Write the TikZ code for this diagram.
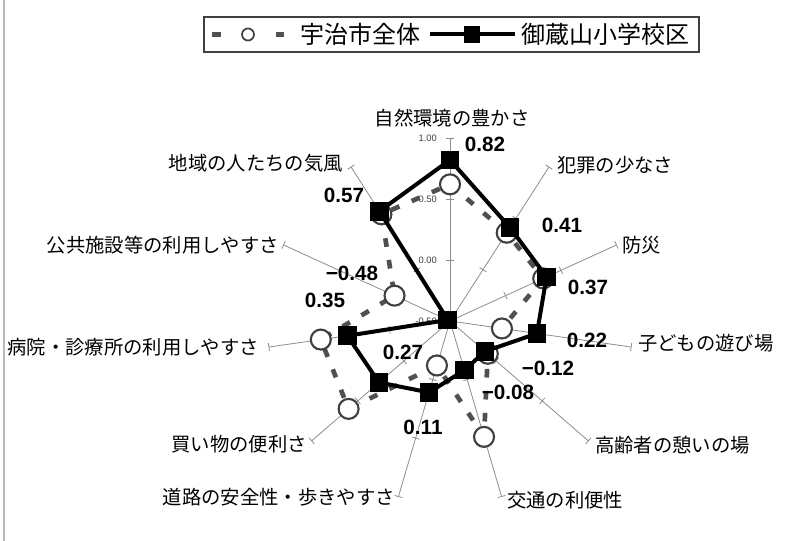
\documentclass[tikz,border=0pt]{standalone}
\usepackage{fontspec}
\setmainfont{Liberation Sans}
\newfontfamily\jpfont{Noto Sans CJK JP}
\definecolor{axisgray}{HTML}{8C8C8C}
\definecolor{ujigray}{HTML}{505050}
\definecolor{ringgray}{HTML}{404040}

\begin{document}
\begin{tikzpicture}[x=0.75pt,y=0.75pt,
  axisline/.style={axisgray,line width=0.6pt},
  ujiline/.style={ujigray,line width=3.5pt,dash pattern=on 6.5pt off 10pt},
  mikuraline/.style={black,line width=3pt,line join=round},
  ujimark/.style={circle,draw=ringgray,line width=1.6pt,fill=white,inner sep=0pt,minimum size=15pt},
  mikuramark/.style={rectangle,fill=black,inner sep=0pt,minimum size=14pt},
  catlabel/.style={font=\jpfont\fontsize{14.5}{16}\selectfont,inner sep=0pt},
  leglabel/.style={font=\jpfont\fontsize{18}{20}\selectfont,inner sep=0pt,anchor=west},
  vallabel/.style={font=\bfseries\fontsize{15.5}{17}\selectfont,inner sep=0pt},
  scalelabel/.style={font=\fontsize{7}{8}\selectfont,text=ringgray,inner sep=0pt,anchor=east}]
\useasboundingbox (0,0) rectangle (787,541);
\draw[gray!55,line width=1.5pt] (4,0) -- (4,541);

\draw[black!75,line width=0.9pt] (204,489) rectangle (699,524);
\draw[ujiline,dash pattern={}] (212,506.5) -- (221,506.5);
\draw[ujiline,dash pattern={}] (276,506.5) -- (284,506.5);
\node[ujimark,minimum size=9pt,line width=1.3pt] (lu) at (248,506.5) {};
\node[leglabel] (lut) at (300,506.5) {宇治市全体};
\draw[mikuraline] (430,506.5) -- (515,506.5);
\node[mikuramark,minimum size=12.5pt] (lm) at (472,506.5) {};
\node[leglabel] (lmt) at (521,506.5) {御蔵山小学校区};

\begin{scope}[shift={(450,220)}]
  \coordinate (O) at (0,0);
  \foreach \k in {0,...,10} {
    \begin{scope}[rotate={90-\k*360/11}]
      \draw[axisline] (O) -- (183,0) coordinate (e\k);
      \foreach \r in {61,122,183} \draw[axisline] (\r,-4) -- (\r,4);
    \end{scope}
  }
  \node[scalelabel] (s0) at (-13,0) {-0.50};
  \node[scalelabel] (s1) at (-13,61) {0.00};
  \node[scalelabel] (s2) at (-13,122) {0.50};
  \node[scalelabel] (s3) at (-13,183) {1.00};

  \foreach \v [count=\k from 0] in {0.62,0.36,0.34,-0.07,-0.09,0.49,-0.12,0.60,0.57,0.00,0.54}
    \coordinate (u\k) at ({90-\k*360/11}:{(\v+0.5)*122});
  \foreach \v [count=\k from 0] in {0.82,0.41,0.37,0.22,-0.12,-0.08,0.11,0.27,0.35,-0.48,0.57}
    \coordinate (m\k) at ({90-\k*360/11}:{(\v+0.5)*122});

  \draw[ujiline] (u0) \foreach \k in {1,...,10} {-- (u\k)} -- cycle;
  \foreach \k in {0,...,10} \node[ujimark] (uc\k) at (u\k) {};
  \draw[mikuraline] (m0) \foreach \k in {1,...,10} {-- (m\k)} -- cycle;
  \foreach \k in {0,...,10} \node[mikuramark] (ms\k) at (m\k) {};
\end{scope}

\node[vallabel] (v0) at (485,397) {0.82};
\node[vallabel] (v1) at (562,316) {0.41};
\node[vallabel] (v2) at (588,254) {0.37};
\node[vallabel] (v3) at (587,201) {0.22};
\node[vallabel] (v4) at (548,173) {−0.12};
\node[vallabel] (v5) at (508,149) {−0.08};
\node[vallabel] (v6) at (423,114) {0.11};
\node[vallabel] (v7) at (403,189) {0.27};
\node[vallabel] (v8) at (325,241) {0.35};
\node[vallabel] (v9) at (352,268) {−0.48};
\node[vallabel] (v10) at (344,346) {0.57};

\node[catlabel] (c0) at (452,423) {自然環境の豊かさ};
\node[catlabel,anchor=west] (c1) at (557,376) {犯罪の少なさ};
\node[catlabel,anchor=west] (c2) at (622,296) {防災};
\node[catlabel,anchor=west] (c3) at (638,198) {子どもの遊び場};
\node[catlabel,anchor=west] (c4) at (595,96) {高齢者の憩いの場};
\node[catlabel,anchor=west] (c5) at (507,41) {交通の利便性};
\node[catlabel,anchor=east] (c6) at (395,44) {道路の安全性・歩きやすさ};
\node[catlabel,anchor=east] (c7) at (307,97) {買い物の便利さ};
\node[catlabel,anchor=east] (c8) at (259,194) {病院・診療所の利用しやすさ};
\node[catlabel,anchor=east] (c9) at (279,296) {公共施設等の利用しやすさ};
\node[catlabel,anchor=east] (c10) at (343,378) {地域の人たちの気風};
\end{tikzpicture}
\end{document}
